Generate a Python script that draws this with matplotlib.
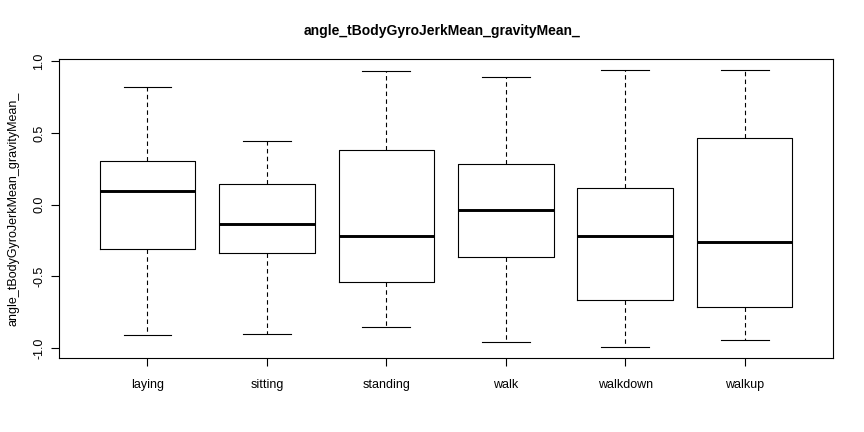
import matplotlib
matplotlib.use("Agg")
import matplotlib.pyplot as plt

plt.rcParams['font.family'] = ['Liberation Sans', 'DejaVu Sans']

# values
activities = ['laying', 'sitting', 'standing', 'walk', 'walkdown', 'walkup']
whislo = [-0.907, -0.900, -0.856, -0.961, -0.994, -0.942]
q1 = [-0.312, -0.338, -0.542, -0.367, -0.668, -0.715]
med = [0.093, -0.133, -0.221, -0.040, -0.216, -0.263]
q3 = [0.304, 0.142, 0.379, 0.281, 0.119, 0.468]
whishi = [0.820, 0.442, 0.930, 0.888, 0.937, 0.937]

stats = []
for i, name in enumerate(activities):
    stats.append({'label': name, 'whislo': whislo[i], 'q1': q1[i], 'med': med[i],
                  'q3': q3[i], 'whishi': whishi[i], 'fliers': []})

fig = plt.figure(figsize=(8.64, 4.32), dpi=100)
ax = fig.add_axes([59 / 864, (432 - 358.3) / 432, (833 - 59) / 864, (358.3 - 59.3) / 432])

pos = list(range(1, len(activities) + 1))
ax.bxp(stats, positions=pos, widths=0.8, showfliers=False,
       boxprops=dict(color='black', linewidth=0.8),
       medianprops=dict(color='black', linewidth=2.1, solid_capstyle='butt'),
       whiskerprops=dict(color='black', linewidth=0.8, linestyle=(0, (4, 3))),
       capprops=dict(color='black', linewidth=0.8),
       capwidths=0.4)

# R style axis extents (4% padding)
n = len(activities)
xr = n * 0.04
ax.set_xlim(0.5 - xr, n + 0.5 + xr)
lo, hi = min(whislo), max(whishi)
pad = (hi - lo) * 0.04
ax.set_ylim(lo - pad, hi + pad)

ax.set_xticks(pos)
ax.set_xticklabels(activities, fontsize=9)
ax.set_yticks([-1.0, -0.5, 0.0, 0.5, 1.0])
ax.set_yticklabels(['-1.0', '-0.5', '0.0', '0.5', '1.0'], fontsize=9,
                   rotation=90, va='center')
ax.tick_params(axis='both', length=6, width=0.8, direction='out')
ax.tick_params(axis='x', pad=9)
ax.tick_params(axis='y', pad=4)
for s in ax.spines.values():
    s.set_linewidth(0.8)

ax.set_ylabel('angle_tBodyGyroJerkMean_gravityMean_', fontsize=9, labelpad=10)
fig.text(442 / 864, 1 - 31 / 432, 'angle_tBodyGyroJerkMean_gravityMean_',
         ha='center', va='center', fontsize=10, fontweight='bold')

fig.savefig('out.png', dpi=100)
